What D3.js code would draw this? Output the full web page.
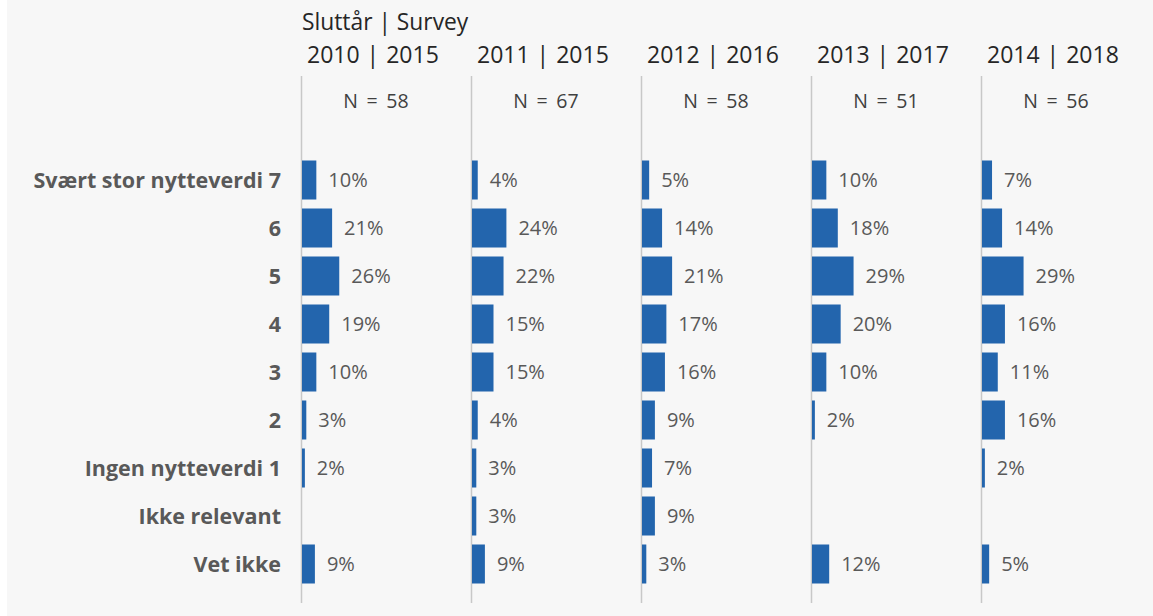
<!DOCTYPE html>
<html>
<head>
<meta charset="utf-8">
<script src="https://cdn.jsdelivr.net/npm/d3@7"></script>
<style>
  body { margin: 0; background: #fff; }
  svg { display: block; font-family: "Open Sans", sans-serif; }
</style>
</head>
<body>
<div id="chart"></div>
<script>
var categories = ["Svært stor nytteverdi 7", "6", "5", "4", "3", "2", "Ingen nytteverdi 1", "Ikke relevant", "Vet ikke"];
var panels = ["2010 | 2015", "2011 | 2015", "2012 | 2016", "2013 | 2017", "2014 | 2018"];
var counts = [58, 67, 58, 51, 56];
// percent per category, null = no answer
var v2010 = [10, 21, 26, 19, 10, 3, 2, null, 9];
var v2011 = [4, 24, 22, 15, 15, 4, 3, 3, 9];
var v2012 = [5, 14, 21, 17, 16, 9, 7, 9, 3];
var v2013 = [10, 18, 29, 20, 10, 2, null, null, 12];
var v2014 = [7, 14, 29, 16, 11, 16, 2, null, 5];
var series = [v2010, v2011, v2012, v2013, v2014];

var width = 1153, height = 616;

var svg = d3.select("#chart").append("svg")
    .attr("width", width).attr("height", height);

svg.append("rect")
    .attr("x", 7).attr("y", 0)
    .attr("width", width - 7).attr("height", height)
    .attr("fill", "#f7f7f7");

var xPanel = d3.scaleBand().domain(panels).range([301, 1151]);
var y = d3.scaleBand().domain(categories).range([156, 588])
    .paddingInner(0.1875).paddingOuter(0.09375);
var x = d3.scaleLinear().domain([0, 30]).range([0, 43]);

// row labels
svg.selectAll(".rowLabel")
    .data(categories)
    .enter()
    .append("text")
    .attr("class", "rowLabel")
    .text(function(d){ return d; })
    .attr("x", 281)
    .attr("y", function(d){ return y(d) + y.bandwidth() / 2; })
    .attr("dy", "0.36em")
    .attr("text-anchor", "end")
    .attr("font-weight", "bold")
    .attr("font-size", 21.5)
    .attr("fill", "#595959");

svg.append("text")
    .text("Sluttår | Survey")
    .attr("x", 302)
    .attr("y", 30)
    .attr("font-size", 22.8)
    .attr("fill", "#262626");

panels.forEach(function(p, i){
    var g = svg.append("g").attr("transform", "translate(" + xPanel(p) + ",0)");

    g.append("text")
        .text(p)
        .attr("x", 6)
        .attr("y", 63)
        .attr("font-size", 23)
        .attr("word-spacing", 1)
        .attr("fill", "#262626");

    g.append("line")
        .attr("x1", 0.5).attr("x2", 0.5)
        .attr("y1", 76).attr("y2", 603)
        .attr("stroke", "#c8c8c8")
        .attr("stroke-width", 1.5);

    g.append("text")
        .text("N = " + counts[i])
        .attr("x", 75)
        .attr("y", 108)
        .attr("text-anchor", "middle")
        .attr("font-size", 19.5)
        .attr("word-spacing", 3.5)
        .attr("fill", "#404040");

    var rows = categories.map(function(c, j){ return { cat: c, val: series[i][j] }; })
        .filter(function(d){ return d.val != null; });

    g.selectAll("rect")
        .data(rows)
        .enter()
        .append("rect")
        .attr("x", 1)
        .attr("y", function(d){ return y(d.cat); })
        .attr("width", function(d){ return x(d.val); })
        .attr("height", y.bandwidth())
        .attr("fill", "#2365ad");

    g.selectAll(".val")
        .data(rows)
        .enter()
        .append("text")
        .attr("class", "val")
        .text(function(d){ return d.val + "%"; })
        .attr("x", function(d){ return 1 + x(d.val) + 12; })
        .attr("y", function(d){ return y(d.cat) + y.bandwidth() / 2; })
        .attr("dy", "0.36em")
        .attr("font-size", 20)
        .attr("fill", "#595959");
});
</script>
</body>
</html>
